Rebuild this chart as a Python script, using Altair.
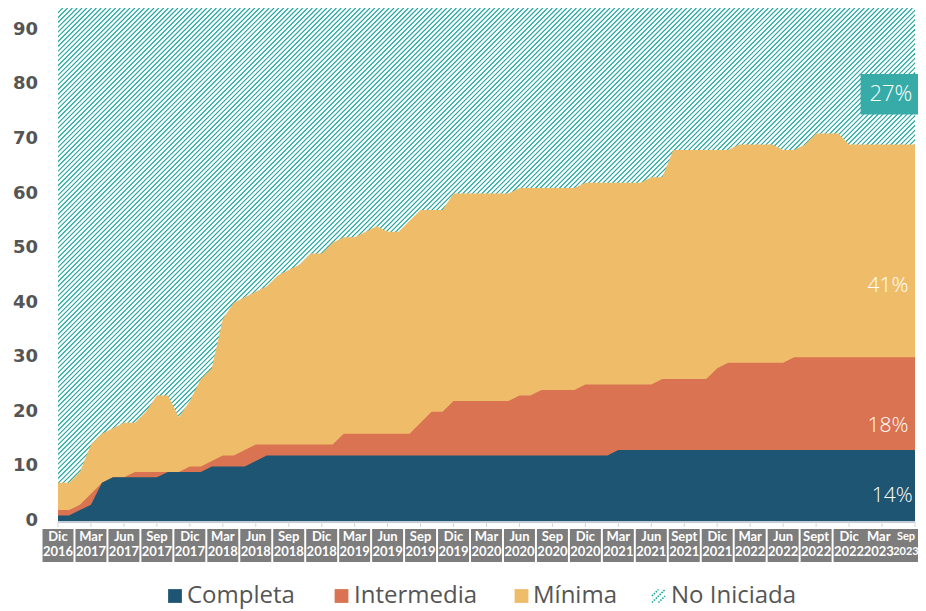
import altair as alt
import pandas as pd
import numpy as np

# ---------------- data ----------------
label_month = ["Dic", "Mar", "Jun", "Sep", "Dic", "Mar", "Jun", "Sep", "Dic", "Mar", "Jun", "Sep",
               "Dic", "Mar", "Jun", "Sep", "Dic", "Mar", "Jun", "Sept", "Dic", "Mar", "Jun", "Sept",
               "Dic", "Mar", "Sep"]
label_year = ["2016", "2017", "2017", "2017", "2017", "2018", "2018", "2018", "2018", "2019", "2019", "2019",
              "2019", "2020", "2020", "2020", "2020", "2021", "2021", "2021", "2021", "2022", "2022", "2022",
              "2022", "2023", "2023"]
y_ticks = [0, 10, 20, 30, 40, 50, 60, 70, 80, 90]

# monthly values, Dic 2016 -> Sep 2023
completa = [1, 1, 2, 3, 7, 8, 8, 8, 8, 8, 9, 9, 9, 9, 10, 10, 10, 10, 11, 12,
            12, 12, 12, 12, 12, 12, 12, 12, 12, 12, 12, 12, 12, 12, 12, 12, 12, 12, 12, 12,
            12, 12, 12, 12, 12, 12, 12, 12, 12, 12, 12, 13, 13, 13, 13, 13, 13, 13, 13, 13,
            13, 13, 13, 13, 13, 13, 13, 13, 13, 13, 13, 13, 13, 13, 13, 13, 13, 13, 13]
intermedia = [1, 1, 1, 2, 0, 0, 0, 1, 1, 1, 0, 0, 1, 1, 1, 2, 2, 3, 3, 2,
              2, 2, 2, 2, 2, 2, 4, 4, 4, 4, 4, 4, 4, 6, 8, 8, 10, 10, 10, 10,
              10, 10, 11, 11, 12, 12, 12, 12, 13, 13, 13, 12, 12, 12, 12, 13, 13, 13, 13, 13,
              15, 16, 16, 16, 16, 16, 16, 17, 17, 17, 17, 17, 17, 17, 17, 17, 17, 17, 17]
minima = [5, 5, 6, 9, 9, 9, 10, 9, 11, 14, 14, 10, 12, 16, 17, 25, 28, 28, 28, 29,
          31, 32, 33, 35, 35, 37, 36, 36, 37, 38, 37, 37, 39, 39, 37, 37, 38, 38, 38, 38,
          38, 38, 38, 38, 37, 37, 37, 37, 37, 37, 37, 37, 37, 37, 38, 37, 42, 42, 42, 42,
          40, 39, 40, 40, 40, 40, 39, 38, 39, 41, 41, 41, 39, 39, 39, 39, 39, 39, 39]
total_entities = 94  # Completa + Intermedia + Mínima + No Iniciada

series_names = ["Completa", "Intermedia", "Mínima", "No Iniciada"]
end_labels = ["14%", "18%", "41%", "27%"]

# ---------------- styling ----------------
C_COMP = "#1d5572"
C_INT = "#d97352"
C_MIN = "#efbd6a"
C_HATCH = "#1ba49a"
C_BOX = "#36aba7"
C_GRAY = "#7d7d7d"
C_TEXT = "#555555"

W, H = 857, 513
XMAX = len(completa) - 1
YMAX = total_entities
px_per_x = W / XMAX

df = pd.DataFrame({"idx": range(len(completa)), "c": completa, "i": intermedia, "m": minima})
df["top_c"] = df["c"]
df["top_i"] = df["c"] + df["i"]
df["top_m"] = df["c"] + df["i"] + df["m"]

xscale = alt.Scale(domain=[0, XMAX], nice=False, zero=False)
yscale = alt.Scale(domain=[0, YMAX], nice=False)

def X(field):
    return alt.X(field, scale=xscale, axis=None)

def Y(field):
    return alt.Y(field, scale=yscale, axis=None)

# ---------------- hatch texture (No Iniciada) ----------------
span = H / px_per_x                 # x-units covered by a 45deg line over full height
step = 4.8 / px_per_x                # horizontal period in px -> x-units
starts = np.arange(-span, XMAX + step, step)
hatch_df = pd.DataFrame({"x": starts, "x2": starts + span, "y": 0.0, "y2": float(YMAX)})
hatch = alt.Chart(hatch_df).mark_rule(
    clip=True, stroke=C_HATCH, strokeWidth=1.15
).encode(x=X("x:Q"), x2="x2:Q", y=Y("y:Q"), y2="y2:Q")

# ---------------- stacked areas ----------------
area_m = alt.Chart(df).mark_area(color=C_MIN, interpolate="linear").encode(x=X("idx:Q"), y=Y("top_m:Q"))
area_i = alt.Chart(df).mark_area(color=C_INT, interpolate="linear").encode(x=X("idx:Q"), y=Y("top_i:Q"))
area_c = alt.Chart(df).mark_area(color=C_COMP, interpolate="linear").encode(x=X("idx:Q"), y=Y("top_c:Q"))

# ---------------- axes (drawn through the shared scales) ----------------
ytick_df = pd.DataFrame({"v": y_ticks})
y_labels = alt.Chart(ytick_df).mark_text(
    font="DejaVu Sans", fontWeight="bold", fontSize=18, color=C_TEXT, align="right", baseline="middle"
).encode(y=Y("v:Q"), x=alt.value(-20), text="v:Q")

xtick_df = pd.DataFrame({"idx": list(range(0, XMAX + 1, 3))})
x_domain = alt.Chart(pd.DataFrame({"a": [0], "b": [XMAX]})).mark_rule(
    color="#c3ccd4", strokeWidth=2).encode(x=X("a:Q"), x2="b:Q", y=alt.value(H + 1))
x_ticks = alt.Chart(xtick_df).mark_rule(color="#d0d6dc", strokeWidth=1).encode(
    x=X("idx:Q"), y=alt.value(H + 1), y2=alt.value(H + 6))

# ---------------- x labels in grey boxes ----------------
lab_df = pd.DataFrame({"idx": list(range(0, XMAX + 1, 3)), "mon": label_month, "yr": label_year})
lab_df["cx"] = lab_df["idx"].astype(float)
lab_df["hw"] = 1.41
lab_df["fs"] = 13.0
# last two boxes nudged so the final one stays on the page
lab_df.loc[lab_df.index[-2], "cx"] = XMAX - 3.3
lab_df.loc[lab_df.index[-1], "cx"] = XMAX - 0.82
lab_df.loc[lab_df.index[-1], "hw"] = 1.1
lab_df.loc[lab_df.index[-1], "fs"] = 11.0
lab_df["x0"] = lab_df["cx"] - lab_df["hw"]
lab_df["x1"] = lab_df["cx"] + lab_df["hw"]
lab_box = alt.Chart(lab_df).mark_rect(color=C_GRAY).encode(
    x=X("x0:Q"), x2="x1:Q", y=alt.value(H + 8), y2=alt.value(H + 41))
lab_mon = alt.Chart(lab_df).mark_text(color="white", font="Lato", fontWeight="bold",
                                      align="center", baseline="middle").encode(
    x=X("cx:Q"), y=alt.value(H + 16), text="mon:N", size=alt.Size("fs:Q", scale=None, legend=None))
lab_yr = alt.Chart(lab_df).mark_text(color="white", font="Lato", fontWeight="bold",
                                     align="center", baseline="middle").encode(
    x=X("cx:Q"), y=alt.value(H + 31), text="yr:N", size=alt.Size("fs:Q", scale=None, legend=None))

# ---------------- end-of-series percentages ----------------
pct_df = pd.DataFrame({"lab": end_labels[:3], "x": [77.8, 77.4, 77.4], "y": [4.6, 17.4, 43.0]})
pct = alt.Chart(pct_df).mark_text(color="white", font="Open Sans", fontSize=21, fontWeight=300,
                                  align="right", baseline="middle").encode(
    x=X("x:Q"), y=Y("y:Q"), text="lab:N")

box_df = pd.DataFrame({"x": [73.05], "x2": [78.5], "y": [74.5], "y2": [81.9],
                       "tx": [75.8], "ty": [78.2], "lab": [end_labels[3]]})
box = alt.Chart(box_df).mark_rect(color=C_BOX).encode(x=X("x:Q"), x2="x2:Q", y=Y("y:Q"), y2="y2:Q")
box_txt = alt.Chart(box_df).mark_text(color="white", font="Open Sans", fontSize=22, fontWeight=300,
                                      align="center", baseline="middle").encode(
    x=X("tx:Q"), y=Y("ty:Q"), text="lab:N")

# ---------------- legend (bottom) ----------------
leg_df = pd.DataFrame({"name": series_names,
                       "sx": [117 / px_per_x, 283.5 / px_per_x, 463.5 / px_per_x, 600.5 / px_per_x],
                       "tx": [129 / px_per_x, 296 / px_per_x, 475 / px_per_x, 613 / px_per_x],
                       "col": [C_COMP, C_INT, C_MIN, C_HATCH]})
sq_df = leg_df[leg_df["name"] != "No Iniciada"]
leg_sq = alt.Chart(sq_df).mark_square(size=190, opacity=1).encode(
    x=X("sx:Q"), y=alt.value(H + 75),
    color=alt.Color("name:N", scale=alt.Scale(domain=list(sq_df["name"]), range=list(sq_df["col"])),
                    legend=None))
hatch_path = "M-1,0L0,-1M-1,1L1,-1M0,1L1,0"
leg_hatch = alt.Chart(leg_df[leg_df["name"] == "No Iniciada"]).mark_point(
    shape=hatch_path, size=170, filled=False, stroke=C_HATCH, strokeWidth=1.6, opacity=1,
    strokeDash=[1.5, 1.2]).encode(x=X("sx:Q"), y=alt.value(H + 75))
leg_txt = alt.Chart(leg_df).mark_text(font="Open Sans", fontSize=24, color=C_TEXT, align="left",
                                      baseline="alphabetic").encode(
    x=X("tx:Q"), y=alt.value(H + 82), text="name:N")

chart = alt.layer(
    hatch, area_m, area_i, area_c, x_domain, x_ticks, y_labels,
    lab_box, lab_mon, lab_yr, pct, box, box_txt,
    leg_sq, leg_hatch, leg_txt
).properties(
    width=W, height=H,
    padding={"left": 50, "top": 0, "right": 3, "bottom": 90},
    autosize=alt.AutoSizeParams(type="none"),
).configure_view(stroke=None)

chart.save("out.html", embed_options={"renderer": "svg", "actions": False})
